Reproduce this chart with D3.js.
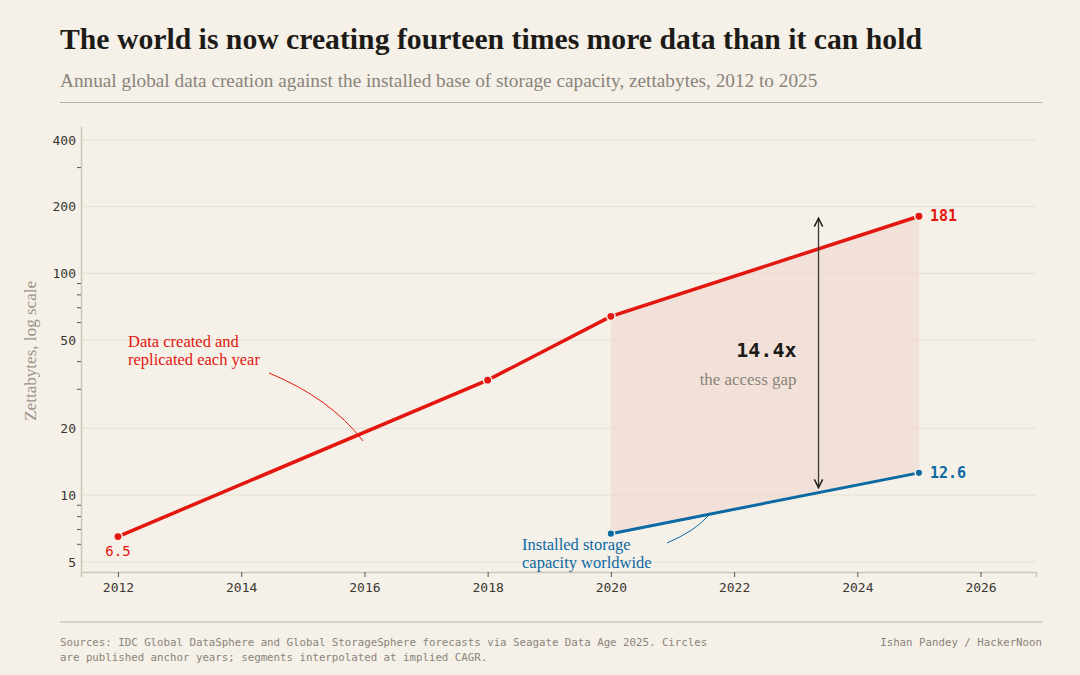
<!DOCTYPE html>
<html>
<head>
<meta charset="utf-8">
<script src="https://cdn.jsdelivr.net/npm/d3@7"></script>
<style>
  html, body { margin: 0; padding: 0; background: #f5f0e8; }
  svg { display: block; }
</style>
</head>
<body>
<svg id="viz" width="1080" height="675"></svg>
<script>
// anchor years only; straight segments on a log axis = constant CAGR
const createdYears = [2012, 2018, 2020, 2025];
const createdZB = [6.5, 33, 64, 181];
const storageYears = [2020, 2025];
const storageZB = [6.7, 12.6];
const xTicks = [2012, 2014, 2016, 2018, 2020, 2022, 2024, 2026];
const yTicks = [5, 10, 20, 50, 100, 200, 400];
const yMinor = [6, 7, 8, 9, 30, 40, 60, 70, 80, 90, 300];

const svg = d3.select("#viz");
const width = +svg.attr("width");
const height = +svg.attr("height");
const margin = { top: 126, right: 44, bottom: 103, left: 81 };

const serif = "'Liberation Serif', 'DejaVu Serif', serif";
const mono = "'DejaVu Sans Mono', 'Liberation Mono', monospace";
const red = "#e3170f";
const blue = "#0b69a3";
const ink = "#1d1b18";
const grey = "#8a847a";

// scale a text (or tspan) so that it spans the given width
function fit(sel, target) {
  const size = +sel.attr("font-size") || +d3.select(sel.node().parentNode).attr("font-size");
  const w = sel.node().getComputedTextLength();
  const el = sel.node().tagName === "tspan" ? d3.select(sel.node().parentNode) : sel;
  el.attr("font-size", (size * target / w).toFixed(2));
}

const created = createdYears.map((y, i) => ({ year: y, v: createdZB[i] }));
const storage = storageYears.map((y, i) => ({ year: y, v: storageZB[i] }));

const x = d3.scaleLinear().domain([2011.4, 2026.9]).range([margin.left, width - margin.right]);
const y = d3.scaleLog().domain([4.5, 462]).range([height - margin.bottom, margin.top]);

svg.append("rect").attr("width", width).attr("height", height).attr("fill", "#f5f0e8");

// header
const title = svg.append("text")
  .attr("x", 60).attr("y", 49)
  .attr("font-family", serif).attr("font-weight", "bold").attr("font-size", 28)
  .attr("fill", ink)
  .text("The world is now creating fourteen times more data than it can hold");
fit(title, 862);

const sub = svg.append("text")
  .attr("x", 60).attr("y", 87)
  .attr("font-family", serif).attr("font-size", 17.5)
  .attr("fill", grey)
  .text("Annual global data creation against the installed base of storage capacity, zettabytes, 2012 to 2025");
fit(sub, 758);

svg.append("line").attr("x1", 60).attr("x2", 1042).attr("y1", 102.5).attr("y2", 102.5)
  .attr("stroke", "#b9b1a2").attr("stroke-width", 1.2);

// gridlines
svg.append("g").selectAll("line").data(yTicks).join("line")
  .attr("x1", margin.left).attr("x2", width - margin.right)
  .attr("y1", d => y(d)).attr("y2", d => y(d))
  .attr("stroke", "#e8e0d2").attr("stroke-width", 1);

// y axis
const yAxis = svg.append("g")
  .attr("transform", `translate(${margin.left},0)`)
  .call(d3.axisLeft(y).tickValues(yTicks).tickFormat(d3.format("d")).tickSize(0).tickPadding(5));
yAxis.select(".domain").attr("stroke", "#cfc7b8").attr("stroke-width", 1.5);
yAxis.selectAll("text").attr("font-family", mono).attr("font-size", 13).attr("fill", "#3a3733");

svg.append("g").selectAll("line").data(yMinor).join("line")
  .attr("x1", margin.left - 4).attr("x2", margin.left)
  .attr("y1", d => y(d)).attr("y2", d => y(d))
  .attr("stroke", "#5a5650").attr("stroke-width", 1);

const yTitle = svg.append("text")
  .attr("transform", `translate(36,${(y(5) + y(400)) / 2}) rotate(-90)`)
  .attr("text-anchor", "middle")
  .attr("font-family", serif).attr("font-size", 15)
  .attr("fill", "#9a948a")
  .text("Zettabytes, log scale");
fit(yTitle, 140);

// x axis
const xAxis = svg.append("g")
  .attr("transform", `translate(0,${height - margin.bottom})`)
  .call(d3.axisBottom(x).tickValues(xTicks).tickFormat(d3.format("d")).tickSize(5).tickPadding(6));
xAxis.select(".domain").attr("stroke", "#cfc7b8").attr("stroke-width", 1.5);
xAxis.selectAll(".tick line").attr("stroke", "#5a5650");
xAxis.selectAll("text").attr("font-family", mono).attr("font-size", 13).attr("fill", "#3a3733");

// gap area between the two series, 2020 to 2025
const gap = storage.map(d => ({ year: d.year, lo: d.v, hi: created.find(c => c.year === d.year).v }));
svg.append("path")
  .datum(gap)
  .attr("fill", "#f0d7cf").attr("opacity", 0.6)
  .attr("d", d3.area().x(d => x(d.year)).y0(d => y(d.lo)).y1(d => y(d.hi)));

// lines
const line = d3.line().x(d => x(d.year)).y(d => y(d.v));
svg.append("path").datum(created)
  .attr("fill", "none").attr("stroke", red).attr("stroke-width", 3.5).attr("d", line);
svg.append("path").datum(storage)
  .attr("fill", "none").attr("stroke", blue).attr("stroke-width", 3).attr("d", line);

svg.append("g").selectAll("circle").data(created).join("circle")
  .attr("cx", d => x(d.year)).attr("cy", d => y(d.v)).attr("r", 4.2)
  .attr("fill", red).attr("stroke", "#f5f0e8").attr("stroke-width", 1.5);
svg.append("g").selectAll("circle").data(storage).join("circle")
  .attr("cx", d => x(d.year)).attr("cy", d => y(d.v)).attr("r", 3.8)
  .attr("fill", blue).attr("stroke", "#f5f0e8").attr("stroke-width", 1.5);

// value labels
const first = created[0], lastC = created[created.length - 1], lastS = storage[storage.length - 1];
const firstS = storage[0];
svg.append("text")
  .attr("x", x(first.year)).attr("y", y(first.v) + 19)
  .attr("text-anchor", "middle")
  .attr("font-family", mono).attr("font-size", 14).attr("fill", red)
  .text(first.v);
svg.append("text")
  .attr("x", x(lastC.year) + 11).attr("y", y(lastC.v) + 5)
  .attr("font-family", mono).attr("font-weight", "bold").attr("font-size", 15).attr("fill", red)
  .text(lastC.v);
svg.append("text")
  .attr("x", x(lastS.year) + 11).attr("y", y(lastS.v) + 5)
  .attr("font-family", mono).attr("font-weight", "bold").attr("font-size", 15).attr("fill", blue)
  .text(lastS.v);

// gap arrow, ends just short of the storage line at the same year
const arrowYear = 2023.37;
const t = (arrowYear - firstS.year) / (lastS.year - firstS.year);
const storageAtArrow = Math.exp(Math.log(firstS.v) + t * (Math.log(lastS.v) - Math.log(firstS.v)));
const arrowX = x(arrowYear);
svg.append("defs").append("marker")
  .attr("id", "tip").attr("viewBox", "0 0 10 10").attr("refX", 9).attr("refY", 5)
  .attr("markerWidth", 8).attr("markerHeight", 8).attr("orient", "auto-start-reverse")
  .append("path").attr("d", "M1,1 L9,5 L1,9").attr("fill", "none").attr("stroke", ink).attr("stroke-width", 1.4);
svg.append("line")
  .attr("x1", arrowX).attr("x2", arrowX)
  .attr("y1", y(lastC.v) + 2).attr("y2", y(storageAtArrow) - 5)
  .attr("stroke", "#3a3733").attr("stroke-width", 1.3)
  .attr("marker-start", "url(#tip)").attr("marker-end", "url(#tip)");

svg.append("text")
  .attr("x", arrowX - 22).attr("y", 357)
  .attr("text-anchor", "end")
  .attr("font-family", mono).attr("font-weight", "bold").attr("font-size", 20).attr("fill", ink)
  .text(d3.format(".1f")(lastC.v / lastS.v) + "x");
const gapNote = svg.append("text")
  .attr("x", arrowX - 22).attr("y", 385)
  .attr("text-anchor", "end")
  .attr("font-family", serif).attr("font-size", 14).attr("fill", grey)
  .text("the access gap");
fit(gapNote, 97);

// series annotations
const redNote = svg.append("text")
  .attr("font-family", serif).attr("font-size", 16.5).attr("fill", red);
redNote.append("tspan").attr("x", 128).attr("y", 347).text("Data created and");
redNote.append("tspan").attr("x", 128).attr("y", 365).text("replicated each year");
svg.append("path")
  .attr("d", "M269,373 Q330,398 363,441")
  .attr("fill", "none").attr("stroke", red).attr("stroke-width", 1);

const blueNote = svg.append("text")
  .attr("font-family", serif).attr("font-size", 16.5).attr("fill", blue);
blueNote.append("tspan").attr("x", 522).attr("y", 550).text("Installed storage");
blueNote.append("tspan").attr("x", 522).attr("y", 568).text("capacity worldwide");
svg.append("path")
  .attr("d", "M667,543 Q695,531 708,516")
  .attr("fill", "none").attr("stroke", blue).attr("stroke-width", 1);

// footer
svg.append("line").attr("x1", 60).attr("x2", 1042).attr("y1", 622).attr("y2", 622)
  .attr("stroke", "#cfc7b8").attr("stroke-width", 1.5);
const foot = svg.append("text")
  .attr("font-family", mono).attr("font-size", 10.5).attr("fill", grey);
const foot1 = foot.append("tspan").attr("x", 60).attr("y", 646)
  .text("Sources: IDC Global DataSphere and Global StorageSphere forecasts via Seagate Data Age 2025. Circles");
foot.append("tspan").attr("x", 60).attr("y", 661)
  .text("are published anchor years; segments interpolated at implied CAGR.");
fit(foot1, 647);
svg.append("text")
  .attr("x", 1042).attr("y", 646).attr("text-anchor", "end")
  .attr("font-family", mono).attr("font-size", foot.attr("font-size")).attr("fill", grey)
  .text("Ishan Pandey / HackerNoon");
</script>
</body>
</html>
